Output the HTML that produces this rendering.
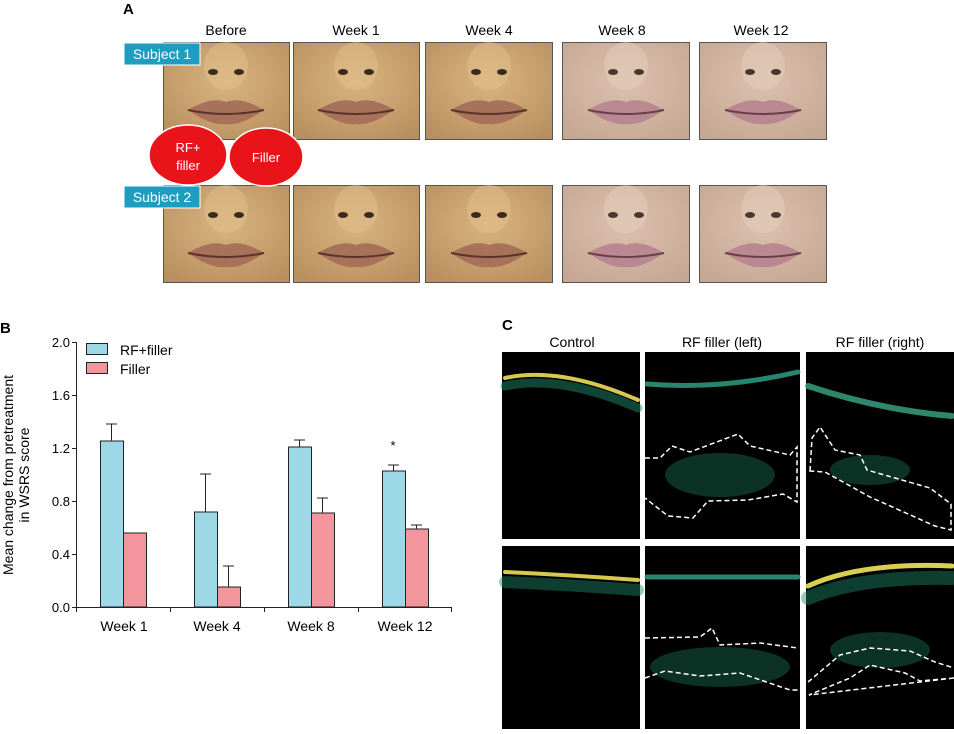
<!DOCTYPE html>
<html><head><meta charset="utf-8"><style>
body{margin:0;background:#fff;width:954px;height:729px;overflow:hidden;font-family:"Liberation Sans",sans-serif}
</style></head><body>
<svg width="954" height="729" viewBox="0 0 954 729" xmlns="http://www.w3.org/2000/svg" font-family="Liberation Sans, sans-serif">
<defs>
<radialGradient id="sk1" cx="50%" cy="40%" r="70%"><stop offset="0" stop-color="#d9b47f"/><stop offset="1" stop-color="#b89060"/></radialGradient>
<radialGradient id="sk2" cx="50%" cy="40%" r="70%"><stop offset="0" stop-color="#dcc1ae"/><stop offset="1" stop-color="#c5a793"/></radialGradient>
<g id="face1">
<ellipse cx="0" cy="-12" rx="22" ry="24" fill="#e2c08e" opacity="0.5"/>
<ellipse cx="-13" cy="-6" rx="5" ry="3" fill="#3a2a1c"/>
<ellipse cx="13" cy="-6" rx="5" ry="3" fill="#3a2a1c"/>
<path d="M-38 32 Q-15 18 0 24 Q15 18 38 32 Q15 48 0 46 Q-15 48 -38 32Z" fill="#a8715a"/>
<path d="M-38 32 Q0 40 38 32" stroke="#5a3428" stroke-width="2" fill="none"/>
</g>
<g id="face2">
<ellipse cx="0" cy="-12" rx="22" ry="24" fill="#e6cdbb" opacity="0.5"/>
<ellipse cx="-13" cy="-6" rx="5" ry="3" fill="#4a3530"/>
<ellipse cx="13" cy="-6" rx="5" ry="3" fill="#4a3530"/>
<path d="M-38 32 Q-15 18 0 24 Q15 18 38 32 Q15 48 0 46 Q-15 48 -38 32Z" fill="#b98890"/>
<path d="M-38 32 Q0 40 38 32" stroke="#6a4048" stroke-width="2" fill="none"/>
</g>
</defs>
<text x="123" y="14" font-size="15" font-weight="bold">A</text>
<g font-size="14" text-anchor="middle">
<text x="226" y="35">Before</text><text x="356" y="35">Week 1</text><text x="489" y="35">Week 4</text><text x="622" y="35">Week 8</text><text x="761" y="35">Week 12</text>
</g>
<g stroke="#555" stroke-width="1">
<rect x="163.5" y="42.5" width="126" height="97" fill="url(#sk1)"/>
<rect x="293.5" y="42.5" width="126" height="97" fill="url(#sk1)"/>
<rect x="425.5" y="42.5" width="127" height="97" fill="url(#sk1)"/>
<rect x="562.5" y="42.5" width="127" height="97" fill="url(#sk2)"/>
<rect x="699.5" y="42.5" width="127" height="97" fill="url(#sk2)"/>
<rect x="163.5" y="185.5" width="126" height="97" fill="url(#sk1)"/>
<rect x="293.5" y="185.5" width="126" height="97" fill="url(#sk1)"/>
<rect x="425.5" y="185.5" width="127" height="97" fill="url(#sk1)"/>
<rect x="562.5" y="185.5" width="127" height="97" fill="url(#sk2)"/>
<rect x="699.5" y="185.5" width="127" height="97" fill="url(#sk2)"/>
</g>
<use href="#face1" x="226" y="78"/><use href="#face1" x="356" y="78"/><use href="#face1" x="489" y="78"/>
<use href="#face2" x="626" y="78"/><use href="#face2" x="763" y="78"/>
<use href="#face1" x="226" y="221"/><use href="#face1" x="356" y="221"/><use href="#face1" x="489" y="221"/>
<use href="#face2" x="626" y="221"/><use href="#face2" x="763" y="221"/>
<rect x="124" y="43" width="76" height="22" fill="#1e9dc0" stroke="#fff"/>
<text x="162" y="59" font-size="14" fill="#fff" text-anchor="middle">Subject 1</text>
<rect x="124" y="186" width="76" height="22" fill="#1e9dc0" stroke="#fff"/>
<text x="162" y="202" font-size="14" fill="#fff" text-anchor="middle">Subject 2</text>
<ellipse cx="188" cy="155" rx="39" ry="30" fill="#e8141a" stroke="#fff" stroke-width="1.5"/>
<ellipse cx="266" cy="157" rx="37" ry="29" fill="#e8141a" stroke="#fff" stroke-width="1.5"/>
<text x="188" y="152" font-size="13" fill="#fff" text-anchor="middle">RF+</text>
<text x="188" y="170" font-size="13" fill="#fff" text-anchor="middle">filler</text>
<text x="266" y="162" font-size="13" fill="#fff" text-anchor="middle">Filler</text>

<!-- B -->
<text x="0" y="333" font-size="15" font-weight="bold">B</text>
<g font-size="13" text-anchor="end">
<text x="70" y="347">2.0</text><text x="70" y="400">1.6</text><text x="70" y="453">1.2</text>
<text x="70" y="506">0.8</text><text x="70" y="559">0.4</text><text x="70" y="612">0.0</text>
</g>
<g stroke="#222" stroke-width="1">
<line x1="76.5" y1="342" x2="76.5" y2="607"/>
<line x1="72" y1="342.5" x2="76" y2="342.5"/><line x1="72" y1="395.5" x2="76" y2="395.5"/>
<line x1="72" y1="448.5" x2="76" y2="448.5"/><line x1="72" y1="501.5" x2="76" y2="501.5"/>
<line x1="72" y1="554.5" x2="76" y2="554.5"/><line x1="72" y1="607.5" x2="76" y2="607.5"/>
<line x1="76" y1="607.5" x2="452" y2="607.5"/>
<line x1="76.5" y1="607" x2="76.5" y2="612"/><line x1="170.5" y1="607" x2="170.5" y2="612"/>
<line x1="264.5" y1="607" x2="264.5" y2="612"/><line x1="358.5" y1="607" x2="358.5" y2="612"/><line x1="451.5" y1="607" x2="451.5" y2="612"/>
</g>
<g stroke="#222" stroke-width="1">
<line x1="111.5" y1="441" x2="111.5" y2="424"/><line x1="106" y1="424" x2="117" y2="424"/>
<line x1="205.5" y1="512" x2="205.5" y2="474"/><line x1="200" y1="474" x2="211" y2="474"/>
<line x1="228.5" y1="587" x2="228.5" y2="566"/><line x1="223" y1="566" x2="234" y2="566"/>
<line x1="299.5" y1="447" x2="299.5" y2="440"/><line x1="294" y1="440" x2="305" y2="440"/>
<line x1="322.5" y1="513" x2="322.5" y2="498"/><line x1="317" y1="498" x2="328" y2="498"/>
<line x1="393.5" y1="471" x2="393.5" y2="465"/><line x1="388" y1="465" x2="399" y2="465"/>
<line x1="416.5" y1="529" x2="416.5" y2="525"/><line x1="411" y1="525" x2="422" y2="525"/>
</g>
<g stroke="#222" stroke-width="1">
<rect x="100.5" y="441" width="23" height="166" fill="#9dd8e6"/>
<rect x="123.5" y="533" width="23" height="74" fill="#f3959c"/>
<rect x="194.5" y="512" width="23" height="95" fill="#9dd8e6"/>
<rect x="217.5" y="587" width="23" height="20" fill="#f3959c"/>
<rect x="288.5" y="447" width="23" height="160" fill="#9dd8e6"/>
<rect x="311.5" y="513" width="23" height="94" fill="#f3959c"/>
<rect x="382.5" y="471" width="23" height="136" fill="#9dd8e6"/>
<rect x="405.5" y="529" width="23" height="78" fill="#f3959c"/>
<rect x="86.5" y="343.5" width="21" height="11" fill="#9dd8e6"/>
<rect x="86.5" y="362.5" width="21" height="11" fill="#f3959c"/>
</g>
<text x="393" y="450" font-size="13" text-anchor="middle">*</text>
<text x="120" y="355" font-size="14">RF+filler</text>
<text x="120" y="374" font-size="14">Filler</text>
<g font-size="14" text-anchor="middle">
<text x="124" y="631">Week 1</text><text x="217" y="631">Week 4</text><text x="311" y="631">Week 8</text><text x="405" y="631">Week 12</text>
</g>
<text transform="translate(13,475) rotate(-90)" font-size="14" text-anchor="middle">Mean change from pretreatment</text>
<text transform="translate(29,475) rotate(-90)" font-size="14" text-anchor="middle">in WSRS score</text>

<!-- C -->
<text x="502" y="330" font-size="15" font-weight="bold">C</text>
<g font-size="14" text-anchor="middle">
<text x="572" y="347">Control</text><text x="722" y="347">RF filler (left)</text><text x="880" y="347">RF filler (right)</text>
</g>
<g fill="#000">
<rect x="502" y="352" width="138" height="187"/><rect x="645" y="352" width="155" height="187"/><rect x="806" y="352" width="148" height="187"/>
<rect x="502" y="546" width="138" height="183"/><rect x="645" y="546" width="155" height="183"/><rect x="806" y="546" width="148" height="183"/>
</g>
<g fill="none" stroke-linecap="round">
<path d="M505 378 Q560 366 638 400" stroke="#d8c850" stroke-width="4"/>
<path d="M505 386 Q560 374 638 408" stroke="#1f8a6a" stroke-width="9" opacity="0.5"/>
<path d="M647 384 Q720 390 798 372" stroke="#2fa88a" stroke-width="5" opacity="0.8"/>
<path d="M808 386 Q880 410 952 416" stroke="#3aa888" stroke-width="6" opacity="0.8"/>
<path d="M505 572 Q570 575 638 580" stroke="#d8c850" stroke-width="4"/>
<path d="M505 582 Q570 585 638 590" stroke="#1f8a6a" stroke-width="12" opacity="0.45"/>
<path d="M647 577 L798 577" stroke="#2fa88a" stroke-width="5" opacity="0.8"/>
<path d="M808 586 Q860 562 952 566" stroke="#d8d050" stroke-width="5"/>
<path d="M808 598 Q860 576 952 578" stroke="#1f8a6a" stroke-width="14" opacity="0.45"/>
</g>
<g fill="#1f7a5c" opacity="0.4">
<ellipse cx="720" cy="475" rx="55" ry="22"/>
<ellipse cx="720" cy="667" rx="70" ry="20"/>
<ellipse cx="880" cy="650" rx="50" ry="18"/>
<ellipse cx="870" cy="470" rx="40" ry="15"/>
</g>
<g fill="none" stroke="#fff" stroke-width="1.5" stroke-dasharray="5,3">
<path d="M645 458 L660 458 L672 446 L690 452 L738 434 L750 446 L790 455 L797 447 L797 502 L783 494 L748 500 L708 501 L693 518 L668 516 L645 498"/>
<path d="M810 471 L812 438 L820 427 L835 450 L860 455 L867 470 L930 488 L951 504 L951 530 L935 526 L870 497 L825 472 Z"/>
<path d="M645 638 L700 637 L712 628 L720 645 L760 643 L798 648"/>
<path d="M645 678 L665 671 L700 676 L740 673 L790 690 L798 690"/>
<path d="M808 682 L840 655 L870 648 L910 651 L935 662 L954 668 M954 678 L920 681 L905 673 L870 665 L850 678 L809 695 Z"/>
</g>
</svg>
</body></html>
